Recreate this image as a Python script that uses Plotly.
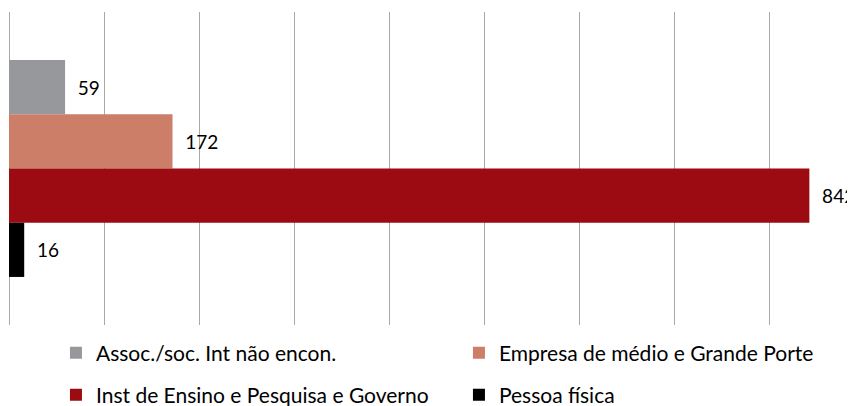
import plotly.graph_objects as go

category = ["Total"]
series_names = [
    "Assoc./soc. Int não encon.",
    "Empresa de médio e Grande Porte",
    "Inst de Ensino e Pesquisa e Governo",
    "Pessoa física",
]
series_values = [59, 172, 842, 16]
series_colors = ["#97989c", "#cc7e69", "#9c0b11", "#000000"]
legend_ids = ["legend", "legend", "legend2", "legend2"]

FONT = "Lato"
FS = 21

fig = go.Figure()
for name, val, col, lg in zip(series_names, series_values, series_colors, legend_ids):
    fig.add_trace(go.Bar(
        y=category, x=[val], name=name, orientation="h",
        marker=dict(color=col, line=dict(width=0)),
        text=[val], texttemplate="  %{x}", textposition="outside",
        textfont=dict(family=FONT, size=19, color="#000000"),
        cliponaxis=False, constraintext="none",
        legend=lg,
    ))

leg_common = dict(orientation="h", xanchor="left", yanchor="middle",
                  entrywidth=358, entrywidthmode="pixels",
                  font=dict(family=FONT, size=FS, color="#000000"),
                  bgcolor="rgba(0,0,0,0)")

# page body has an 8px default margin, so the figure is sized to fit the window
fig.update_layout(
    width=847, height=398,
    margin=dict(l=1, r=0, t=4, b=81, autoexpand=False),
    paper_bgcolor="white", plot_bgcolor="white",
    barmode="group", bargap=0.307, bargroupgap=0,
    font=dict(family=FONT, size=FS, color="#000000"),
    showlegend=True,
    legend=dict(x=0.0555, y=-0.0895, **leg_common),
    legend2=dict(x=0.0555, y=-0.2236, **leg_common),
    xaxis=dict(range=[0, 890], dtick=100, tick0=0, showgrid=True, gridcolor="#a8a8a8",
               gridwidth=1, zeroline=True, zerolinecolor="#a8a8a8", zerolinewidth=1,
               showticklabels=False, showline=False, ticks=""),
    yaxis=dict(autorange="reversed", showticklabels=False, showgrid=False,
               zeroline=False, showline=False, ticks=""),
)

fig.write_html("out.html")
